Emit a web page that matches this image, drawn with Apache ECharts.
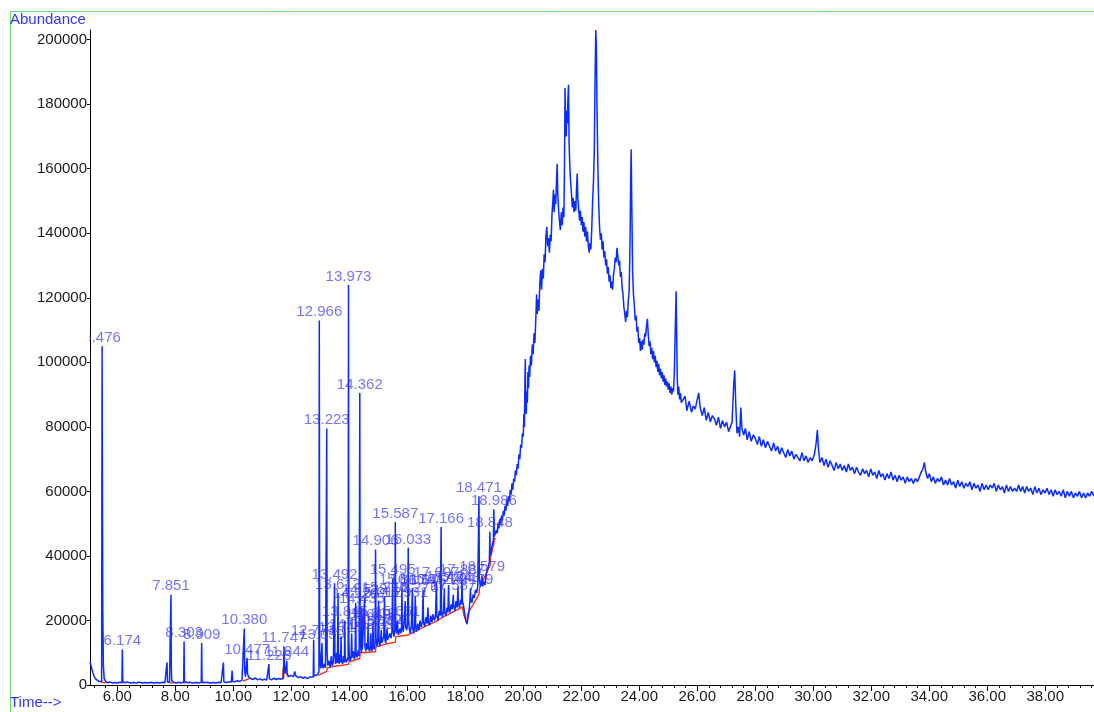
<!DOCTYPE html>
<html><head><meta charset="utf-8">
<script src="https://cdn.jsdelivr.net/npm/echarts@6/dist/echarts.min.js"></script>
<style>html,body{margin:0;padding:0;background:#fff}#c{width:1094px;height:712px}</style>
</head><body><div id="c"></div>
<script>
// ---- axis ticks ----
const xTickValues = [6,8,10,12,14,16,18,20,22,24,26,28,30,32,34,36,38];
const xTickLabels = ['6.00','8.00','10.00','12.00','14.00','16.00','18.00','20.00','22.00','24.00','26.00','28.00','30.00','32.00','34.00','36.00','38.00'];
const yTickValues = [0,20000,40000,60000,80000,100000,120000,140000,160000,180000,200000];

// ---- labelled peaks (retention times) ----
const peakLabels = ['5.476','6.174','7.851','8.303','8.909','10.380','10.477','11.228','11.747','11.844','12.771','12.966','13.059','13.223','13.492','13.613','13.717','13.845','13.973','14.082','14.220','14.362','14.435','14.528','14.649','14.739','14.819','14.906','15.012','15.104','15.216','15.302','15.495','15.587','15.661','15.816','15.931','16.033','16.176','16.276','16.545','17.007','17.166','17.279','17.424','17.587','17.748','17.887','18.179','18.471','18.579','18.848','18.986'];

// ---- TIC trace [time (min), abundance] ----
const traceEarly = [[5.06,7200],[5.09,6200],[5.12,5000],[5.16,3800],[5.20,2700],[5.25,1900],[5.30,1400],[5.36,1100],[5.42,900],[5.46,1100],[5.476,105000],[5.488,62000],[5.50,24000],[5.52,6000],[5.55,1900],[5.60,1100],[5.68,700],[5.76,900],[5.84,600],[5.92,800],[6.00,650],[6.08,850],[6.16,800],[6.174,11000],[6.19,1100],[6.26,700],[6.36,900],[6.46,600],[6.56,800],[6.66,650],[6.76,900],[6.86,600],[6.96,800],[7.06,650],[7.16,850],[7.26,600],[7.36,800],[7.46,650],[7.56,850],[7.64,700],[7.70,900],[7.715,7000],[7.73,900],[7.80,800],[7.838,1200],[7.851,28000],[7.862,6000],[7.875,1400],[7.95,800],[8.04,650],[8.12,850],[8.20,650],[8.29,900],[8.303,13500],[8.316,1200],[8.40,700],[8.50,850],[8.60,650],[8.70,800],[8.80,600],[8.896,900],[8.909,13000],[8.922,1100],[9.00,700],[9.10,850],[9.20,600],[9.30,800],[9.40,650],[9.50,850],[9.58,700],[9.645,900],[9.66,7000],[9.675,1000],[9.75,800],[9.85,950],[9.93,900],[9.96,4500],[9.98,1100],[10.06,1000],[10.14,1300],[10.22,1100],[10.30,1500],[10.367,1800],[10.380,17500],[10.393,4500],[10.42,2600],[10.45,2300],[10.465,3000],[10.477,8400],[10.49,3500],[10.53,2500],[10.60,2000],[10.68,1700],[10.76,2200],[10.84,1600],[10.92,1900],[11.00,1500],[11.08,1800],[11.15,1500],[11.215,1800],[11.228,6500],[11.242,2000],[11.32,1600],[11.40,2100],[11.48,1700],[11.56,2000],[11.64,1800],[11.734,2200],[11.747,12000],[11.76,6000],[11.79,3600],[11.82,3200],[11.844,7500],[11.858,3400],[11.92,2600],[12.00,3000],[12.08,2600],[12.12,4200],[12.16,2800],[12.24,2300],[12.32,2600],[12.40,2100],[12.48,2400],[12.56,2000],[12.64,2500],[12.70,2200],[12.758,2500],[12.771,14000],[12.784,2800],[12.84,2600],[12.90,3200],[12.953,4000],[12.966,113000],[12.978,12000],[12.995,6000],[13.02,5200],[13.045,5600],[13.059,13000],[13.072,6000],[13.10,5200],[13.14,6600],[13.18,5300],[13.21,5800]];

const traceDense = [[13.223,79500],[13.235,10000],[13.26,6000],[13.30,7500],[13.34,5500],[13.38,9000],[13.41,6000],[13.45,7000],[13.48,6500],[13.492,31500],[13.505,9000],[13.53,6500],[13.56,10000],[13.59,6800],[13.613,28500],[13.625,8000],[13.65,6500],[13.68,9500],[13.70,7000],[13.717,15000],[13.73,7500],[13.77,6500],[13.80,9000],[13.83,7000],[13.845,20000],[13.86,8000],[13.90,7000],[13.94,8500],[13.96,7500],[13.973,124000],[13.985,14000],[14.00,9000],[14.03,7500],[14.06,8500],[14.082,16000],[14.10,8500],[14.14,10500],[14.17,8000],[14.20,9000],[14.220,25500],[14.235,10000],[14.27,8500],[14.31,11000],[14.34,9000],[14.362,90500],[14.375,15000],[14.40,11000],[14.42,10000],[14.435,24000],[14.45,11000],[14.48,10500],[14.51,11500],[14.528,27000],[14.54,12000],[14.57,10500],[14.60,13000],[14.63,11000],[14.649,19000],[14.66,11500],[14.70,10500],[14.72,12000],[14.739,16000],[14.75,11500],[14.78,10500],[14.80,12500],[14.819,19500],[14.83,12000],[14.86,11000],[14.89,13000],[14.906,42000],[14.92,15000],[14.95,12000],[14.98,13500],[15.012,26000],[15.025,13500],[15.05,12000],[15.08,14000],[15.104,17000],[15.12,13000],[15.15,12500],[15.19,15000],[15.216,27500],[15.23,14000],[15.26,13000],[15.28,15500],[15.302,17500],[15.32,14000],[15.36,13500],[15.40,16000],[15.44,14500],[15.47,16500],[15.495,33000],[15.51,17000],[15.54,15000],[15.57,17000],[15.587,50500],[15.60,19000],[15.63,16000],[15.661,20000],[15.675,16500],[15.70,15500],[15.74,17500],[15.78,16000],[15.80,18000],[15.816,30000],[15.83,18000],[15.86,16500],[15.89,19000],[15.931,26000],[15.945,18000],[15.98,17000],[16.01,19000],[16.033,42500],[16.045,20000],[16.07,17500],[16.10,16000],[16.14,18500],[16.176,30000],[16.19,17500],[16.22,16000],[16.25,18000],[16.276,27500],[16.29,18000],[16.32,16500],[16.36,19000],[16.40,17000],[16.44,20000],[16.48,18000],[16.52,19500],[16.545,29500],[16.56,19500],[16.60,18000],[16.64,21000],[16.68,19000],[16.712,24000],[16.73,19500],[16.77,18500],[16.81,21500],[16.85,19500],[16.89,22000],[16.93,20000],[16.97,21000],[17.007,32000],[17.02,21500],[17.06,20000],[17.10,23000],[17.14,21500],[17.166,49000],[17.18,23000],[17.21,21000],[17.25,23000],[17.279,30000],[17.29,22500],[17.33,21500],[17.37,24000],[17.40,22500],[17.424,31000],[17.44,24000],[17.47,22500],[17.51,25000],[17.55,23500],[17.587,28000],[17.60,24500],[17.64,23000],[17.68,26000],[17.72,24000],[17.748,30500],[17.76,25500],[17.80,24000],[17.84,26500],[17.87,25000],[17.887,33000],[17.90,26000],[17.94,24500],[17.98,22000],[18.02,20000],[18.06,19000],[18.10,21000],[18.14,24000],[18.16,26000],[18.179,30000],[18.19,26500],[18.23,25500],[18.27,28000],[18.31,27000],[18.35,29500],[18.39,28500],[18.43,30500],[18.455,31000],[18.471,58500],[18.485,33000],[18.52,30500],[18.55,32000],[18.565,31000],[18.579,34000],[18.595,30500],[18.64,32000],[18.68,31000],[18.72,34500],[18.76,34000],[18.80,37000],[18.83,38000],[18.848,47500],[18.86,40000],[18.89,41000],[18.92,43000],[18.95,44000],[18.97,45000],[18.986,54500],[19.00,46000],[19.04,45500],[19.07,48000]];

const traceHump = [[19.10,47000],[19.13,50000],[19.16,48500],[19.19,51500],[19.22,49500],[19.25,52500],[19.28,51000],[19.31,54000],[19.34,52500],[19.37,55500],[19.40,54000],[19.43,57500],[19.46,55500],[19.49,58500],[19.52,57000],[19.55,60500],[19.58,59000],[19.61,62500],[19.64,60500],[19.67,64000],[19.70,63000],[19.73,66500],[19.76,65000],[19.79,68500],[19.82,67000],[19.85,71500],[19.88,70000],[19.91,74500],[19.94,73500],[19.97,78000],[20.00,77000],[20.02,84000],[20.04,80000],[20.06,97000],[20.07,101000],[20.08,88000],[20.10,84000],[20.12,91000],[20.14,87500],[20.16,97000],[20.18,92000],[20.20,99000],[20.22,95500],[20.25,102000],[20.28,99000],[20.31,105500],[20.34,102500],[20.37,109000],[20.40,106000],[20.43,113000],[20.46,121000],[20.48,115000],[20.51,119500],[20.54,116000],[20.57,124500],[20.60,128500],[20.63,122500],[20.66,129000],[20.69,126000],[20.72,133500],[20.75,131000],[20.78,139000],[20.81,142000],[20.84,136000],[20.87,138500],[20.90,134000],[20.93,139500],[20.96,137500],[20.99,146000],[21.02,150000],[21.04,153500],[21.06,146500],[21.09,152000],[21.12,149000],[21.15,157500],[21.17,161500],[21.19,152000],[21.22,147000],[21.25,143500],[21.28,141000],[21.31,146500],[21.34,142500],[21.37,148000],[21.40,145000],[21.42,160000],[21.44,185000],[21.46,176000],[21.48,170000],[21.50,178000],[21.52,174000],[21.54,182000],[21.56,186000],[21.58,168000],[21.60,162000],[21.63,156000],[21.66,152500],[21.69,148000],[21.72,151000],[21.75,146500],[21.78,150000],[21.81,147000],[21.84,155000],[21.86,158500],[21.88,151000],[21.91,147500],[21.94,144000],[21.97,147000],[22.00,142500],[22.03,145000],[22.06,140500],[22.09,143500],[22.12,139000],[22.15,142000],[22.18,137500],[22.21,140500],[22.24,136500],[22.27,134000],[22.30,137000],[22.33,135000],[22.36,141000],[22.39,150000],[22.42,156000],[22.45,166000],[22.47,185000],[22.50,203000],[22.52,198000],[22.54,180000],[22.57,162000],[22.60,149000],[22.63,142000],[22.66,138000],[22.69,140000],[22.72,135000],[22.75,137500],[22.78,132500],[22.81,134500],[22.84,130000],[22.87,132000],[22.90,127500],[22.93,129500],[22.96,125000],[22.99,127000],[23.02,123000],[23.05,125000],[23.08,122500],[23.11,127000],[23.14,129000],[23.17,132500],[23.20,131000],[23.23,135500],[23.26,133000],[23.29,130000],[23.32,131500],[23.35,126500],[23.38,128000],[23.41,123000],[23.44,121000],[23.47,117000],[23.50,115000],[23.53,112500],[23.56,116000],[23.59,114000],[23.62,119000],[23.65,122000],[23.68,136000],[23.70,155000],[23.72,166000],[23.74,150000],[23.77,128000],[23.80,121000],[23.83,117500],[23.86,113000],[23.89,114500],[23.92,109500],[23.95,111000],[23.98,106000],[24.01,107500],[24.04,103500],[24.07,106500],[24.10,104000],[24.13,107000],[24.16,105500],[24.19,109000],[24.22,108000],[24.25,111500],[24.28,113500],[24.31,108500],[24.34,105000],[24.37,106500],[24.40,102500],[24.43,104500],[24.46,101000],[24.49,103500],[24.52,100000],[24.55,102000],[24.58,98500],[24.61,100500],[24.64,97000],[24.67,99500],[24.70,96000],[24.73,98000],[24.76,95000],[24.79,97000],[24.82,94000],[24.85,96000],[24.88,93000],[24.91,95000],[24.94,92500],[24.97,94000],[25.00,91500],[25.03,93500],[25.06,90500],[25.09,92500],[25.12,90000],[25.15,92000],[25.18,91000],[25.21,97000],[25.24,110000],[25.27,122000],[25.29,108000],[25.31,95000],[25.33,90000],[25.36,92500],[25.39,88500],[25.42,90500],[25.45,87500]];

const traceTail = [[25.50,87000],[25.58,89500],[25.64,85000],[25.72,88000],[25.80,84500],[25.86,86500],[25.93,85500],[26.00,88500],[26.05,90500],[26.10,86000],[26.17,83500],[26.24,86000],[26.31,82000],[26.38,84500],[26.45,81500],[26.52,83500],[26.59,82500],[26.66,80500],[26.73,83000],[26.80,79500],[26.87,82000],[26.94,80000],[27.01,81500],[27.08,78500],[27.14,80000],[27.20,81500],[27.25,92000],[27.29,97500],[27.33,86000],[27.37,78000],[27.42,80000],[27.46,77000],[27.50,86000],[27.54,79500],[27.60,77500],[27.66,79500],[27.72,76000],[27.79,78500],[27.86,75500],[27.93,77500],[28.00,76500],[28.07,74500],[28.14,77000],[28.21,74000],[28.28,76000],[28.35,73500],[28.42,75500],[28.49,74000],[28.56,72500],[28.63,75000],[28.70,72500],[28.77,74000],[28.84,71500],[28.91,73500],[28.98,72000],[29.05,70500],[29.12,73000],[29.19,71000],[29.26,72500],[29.33,70000],[29.40,71500],[29.47,70500],[29.54,69500],[29.61,72000],[29.68,69500],[29.75,71000],[29.82,69000],[29.89,70500],[29.96,69500],[30.04,71500],[30.10,75000],[30.14,79000],[30.18,73000],[30.23,69000],[30.30,70500],[30.37,68000],[30.44,70000],[30.51,67500],[30.58,69500],[30.65,68000],[30.72,66500],[30.79,69000],[30.86,67000],[30.93,68500],[31.00,66500],[31.07,68000],[31.14,66000],[31.21,68500],[31.28,66500],[31.35,67500],[31.42,65500],[31.49,67500],[31.56,66000],[31.63,65000],[31.70,67000],[31.77,65500],[31.84,66500],[31.91,64500],[31.98,67000],[32.05,65000],[32.12,66000],[32.19,64000],[32.26,66500],[32.33,64500],[32.40,65500],[32.47,63500],[32.54,65500],[32.61,64000],[32.68,66000],[32.75,63500],[32.82,65000],[32.89,63000],[32.96,65000],[33.03,63500],[33.10,64500],[33.17,62500],[33.24,64500],[33.31,63000],[33.38,64000],[33.45,62500],[33.52,64000],[33.59,63000],[33.66,64500],[33.72,66000],[33.78,67000],[33.83,69000],[33.88,66000],[33.94,64000],[34.00,65500],[34.07,63000],[34.14,64500],[34.21,62500],[34.28,64000],[34.35,63000],[34.42,64500],[34.49,62000],[34.56,63500],[34.63,62000],[34.70,64000],[34.77,62000],[34.84,63000],[34.91,61000],[34.98,63500],[35.05,61500],[35.12,63000],[35.19,61000],[35.26,62500],[35.33,61500],[35.40,63000],[35.47,60500],[35.54,62500],[35.61,61000],[35.68,62000],[35.75,60000],[35.82,62500],[35.89,60500],[35.96,62000],[36.03,60500],[36.10,62000],[36.17,61000],[36.24,62500],[36.31,60000],[36.38,62000],[36.45,60500],[36.52,61500],[36.59,59500],[36.66,62000],[36.73,60000],[36.80,61500],[36.87,60000],[36.94,61000],[37.01,60000],[37.08,62000],[37.15,60000],[37.22,61500],[37.29,59500],[37.36,61500],[37.43,60000],[37.50,61000],[37.57,59000],[37.64,61500],[37.71,59500],[37.78,61000],[37.85,59000],[37.92,60500],[37.99,59500],[38.06,61000],[38.13,59000],[38.20,60500],[38.27,58500],[38.34,60500],[38.41,59000],[38.48,60000],[38.55,58500],[38.62,60500],[38.69,58000],[38.76,60000],[38.83,58500],[38.90,60000],[38.97,58000],[39.04,59500],[39.11,58500],[39.18,60000],[39.25,58000],[39.32,59500],[39.39,58000],[39.46,59500],[39.53,58500],[39.60,60000],[39.68,58500]];

// ---- integration baselines (red) ----
const baselineRed = [[5.44,900],[5.62,700],null,[6.14,700],[6.22,650],null,[7.82,700],[7.92,650],null,[8.27,700],[8.36,650],null,[8.88,650],[8.95,600],null,[10.33,1200],[10.55,2000],null,[11.70,1600],[11.72,5500],[11.90,2400],null,[12.93,3000],[13.22,4200],[13.24,5300],[13.50,5800],[13.97,6400],[14.00,7200],[14.36,8200],[14.38,10000],[14.90,10300],[14.92,11800],[15.30,12800],[15.59,13300],[15.60,15000],[16.03,15500],[16.05,15800],[16.50,17700],[17.00,19700],[17.17,20700],[17.50,22300],[17.90,24200],[17.95,21800],[18.06,18800],[18.08,22000],[18.47,28000],[18.49,30000],[18.85,37000],[18.87,39500],[18.99,44000],[19.00,45500],[19.05,45300]];

// ---- build ----
const trace = [].concat(traceEarly, traceDense, traceHump, traceTail);
const peakPoints = peakLabels.map(function (s) {
  const t = Number(s);
  let best = trace[0];
  for (const p of trace) { if (Math.abs(p[0] - t) < Math.abs(best[0] - t)) best = p; }
  return { value: [best[0], best[1]], name: s };
});
const minorTicks = [];
for (let k = 13; k <= 99; k++) { const v = Math.round(k * 0.4 * 10) / 10; if (v % 2 !== 0) minorTicks.push(v); }

const FONT = 'Liberation Sans, Arial, sans-serif';
const chart = echarts.init(document.getElementById('c'), null, { renderer: 'canvas' });
chart.setOption({
  animation: false,
  backgroundColor: '#ffffff',
  grid: { left: 90, right: 0, top: 30, bottom: 27, containLabel: false },
  xAxis: [{
    type: 'value', min: 5.059, max: 39.68, gridIndex: 0,
    axisLine: { show: true, onZero: false, lineStyle: { color: '#000', width: 1 } },
    axisTick: { show: true, length: 6, lineStyle: { color: '#000' }, customValues: xTickValues },
    axisLabel: { show: true, customValues: xTickValues, color: '#1a1a1a', fontSize: 15, fontFamily: FONT, margin: 4,
      formatter: function (v) { const i = xTickValues.indexOf(v); return i >= 0 ? xTickLabels[i] : ''; } },
    splitLine: { show: false }
  }, {
    type: 'value', min: 5.059, max: 39.68, gridIndex: 0, position: 'bottom',
    axisLine: { show: false, onZero: false },
    axisTick: { show: true, length: 3, lineStyle: { color: '#000' }, customValues: minorTicks },
    axisLabel: { show: false },
    splitLine: { show: false }
  }],
  yAxis: {
    type: 'value', min: 0, max: 203000,
    axisLine: { show: true, onZero: false, lineStyle: { color: '#000', width: 1 } },
    axisTick: { show: true, length: 3, lineStyle: { color: '#000' }, customValues: yTickValues },
    axisLabel: { show: true, customValues: yTickValues, color: '#1a1a1a', fontSize: 15, fontFamily: FONT, margin: 3,
      formatter: function (v) { return String(v); } },
    splitLine: { show: false }
  },
  series: [{
    type: 'line', name: 'baseline', data: baselineRed, symbol: 'none', connectNulls: false,
    lineStyle: { color: '#ff2a10', width: 1.4 }, z: 1, silent: true
  }, {
    type: 'line', name: 'TIC', data: trace, symbol: 'none',
    lineStyle: { color: '#0a2cff', width: 1.5 }, z: 2, silent: true
  }, {
    type: 'scatter', name: 'peaks', data: peakPoints, symbolSize: 0, z: 3, silent: true,
    label: { show: true, position: 'top', distance: 1, formatter: function (p) { return p.name; },
      color: 'rgba(50,50,255,0.85)', fontSize: 15, fontFamily: FONT }
  }],
  graphic: [
    { type: 'polyline', z: 50, shape: { points: [[10.5, 712], [10.5, 11.5], [1094, 11.5]] }, style: { stroke: '#6fe06f', lineWidth: 1, fill: null } },
    { type: 'text', z: 50, left: 10, top: 12, style: { text: 'Abundance', fill: '#3535ff', font: '15px ' + FONT } },
    { type: 'text', z: 50, left: 10, top: 695, style: { text: 'Time-->', fill: '#3535ff', font: '15px ' + FONT } },
    { type: 'rect', z: 100, shape: { x: 60, y: 327, width: 29.5, height: 20 }, style: { fill: '#ffffff' } }
  ]
});
</script></body></html>
